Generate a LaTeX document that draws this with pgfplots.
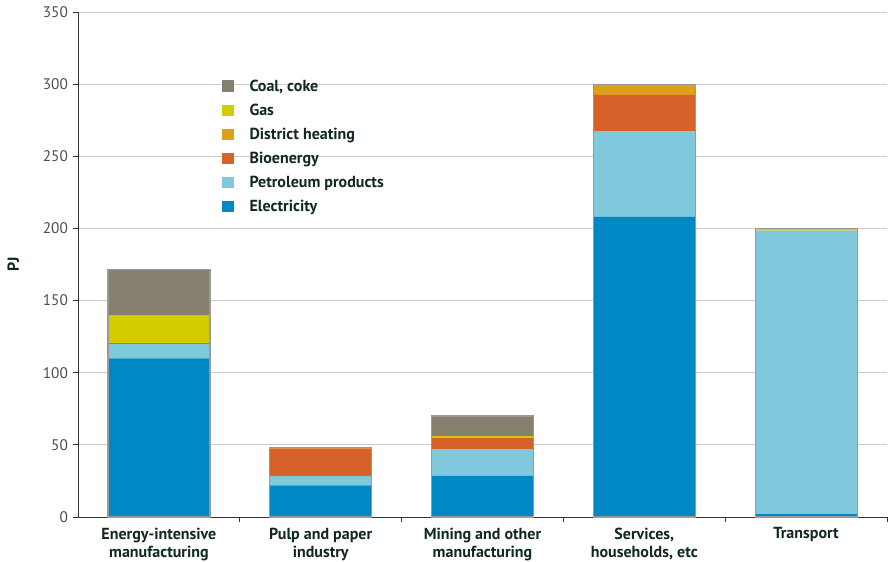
\documentclass[border=0pt]{standalone}
\usepackage{pgfplots}
\pgfplotsset{compat=1.18}
\usepackage{fontspec}
\setmainfont{PT Sans}
\definecolor{cCoal}{HTML}{857F6E}
\definecolor{cGas}{HTML}{D4CC00}
\definecolor{cDH}{HTML}{DCA01A}
\definecolor{cBio}{HTML}{D6622A}
\definecolor{cPet}{HTML}{80C8DC}
\definecolor{cEl}{HTML}{0088C4}
\definecolor{txt}{HTML}{10281F}
\definecolor{gridc}{HTML}{CCCCCC}
\begin{document}
\begin{tikzpicture}
\begin{axis}[
  name=ax,
  scale only axis,
  width=606.75pt, height=378.75pt,
  xmin=-0.5, xmax=4.5, ymin=0, ymax=350,
  ybar stacked, bar width=76.5pt,
  axis x line*=bottom, axis y line*=left,
  axis line style={draw=black!80, line width=0.6pt},
  ytick={0,50,...,350},
  ymajorgrids, grid style={gridc, line width=0.6pt},
  tick align=outside, major tick length=4pt,
  tick style={draw=black!80, line width=0.6pt},
  yticklabel style={font=\fontsize{11.5}{13}\selectfont, text=black!70},
  /pgf/number format/assume math mode=true,
  xtick={0,1,2,3,4},
  xtick style={draw=none},
  xticklabels={{Energy-intensive\\manufacturing},{Pulp and paper\\industry},{Mining and other\\manufacturing},{Services,\\households, etc},{Transport}},
  xticklabel style={align=center, font=\fontsize{12}{13.5}\selectfont\bfseries, text=txt, yshift=-0.5pt},
  extra x ticks={0.5,1.5,2.5,3.5,4.5},
  extra x tick labels={},
  extra x tick style={xtick style={draw=black!80}, grid=none},
  ylabel={PJ},
  ylabel style={font=\fontsize{12}{13}\selectfont\bfseries, text=txt, yshift=11pt},
  legend style={at={(0.173,0.877)}, anchor=north west, draw=none, fill=none,
    font=\fontsize{12}{13}\selectfont\bfseries, text=txt,
    row sep=4pt, cells={anchor=west}},
  legend cell align=left,
  reverse legend,
  legend image code/.code={\fill[#1] (0pt,-4pt) rectangle (8.5pt,4.5pt);},
  legend image post style={xshift=2pt},
  every axis plot/.append style={draw=none},
]
\addplot[fill=cEl] coordinates {(0,110) (1,22) (2,28.5) (3,208) (4,2)};
\addlegendentry{\hspace{10pt}Electricity}
\addplot[fill=cPet] coordinates {(0,10) (1,6.5) (2,18.5) (3,59.5) (4,196.5)};
\addlegendentry{\hspace{10pt}Petroleum products}
\addplot[fill=cBio] coordinates {(0,0.5) (1,19) (2,8) (3,25) (4,0)};
\addlegendentry{\hspace{10pt}Bioenergy}
\addplot[fill=cDH] coordinates {(0,0) (1,0) (2,0) (3,7.5) (4,0)};
\addlegendentry{\hspace{10pt}District heating}
\addplot[fill=cGas] coordinates {(0,19) (1,0.8) (2,1) (3,0) (4,1.5)};
\addlegendentry{\hspace{10pt}Gas}
\addplot[fill=cCoal] coordinates {(0,32) (1,0) (2,14) (3,0) (4,0)};
\addlegendentry{\hspace{10pt}Coal, coke}
\end{axis}
\begin{axis}[
  scale only axis,
  width=606.75pt, height=378.75pt,
  xmin=-0.5, xmax=4.5, ymin=0, ymax=350,
  hide axis, ybar, bar width=76.5pt,
]
\addplot[fill=none, draw=black!40, line width=0.9pt] coordinates {(0,171.5) (1,48.3) (2,70) (3,300) (4,200)};
\end{axis}
\pgfresetboundingbox
\path ([shift={(-58.5pt,-33pt)}]ax.south west) rectangle ([shift={(0.75pt,9pt)}]ax.north east);
\end{tikzpicture}
\end{document}
